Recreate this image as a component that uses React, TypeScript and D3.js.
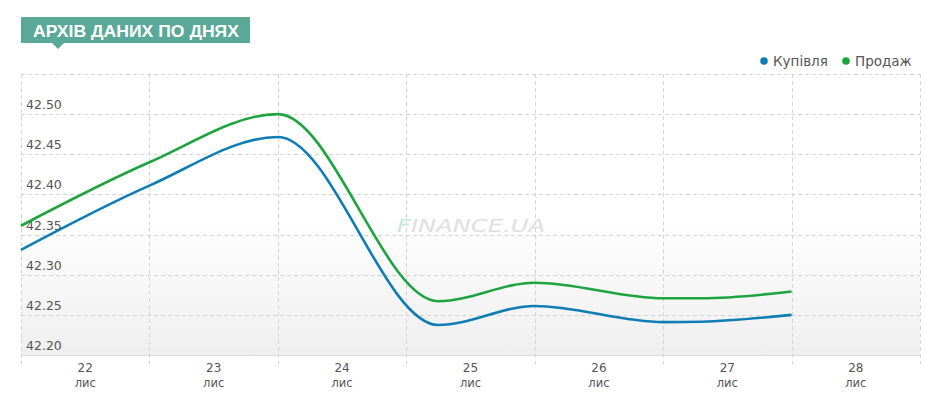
import React from "react";
import * as d3 from "d3";

// Data
const dayPos = [0, 1, 2, 3.25, 4, 5, 5.3, 6];
const buyValues = [42.331, 42.411, 42.4716, 42.2374, 42.261, 42.241, 42.2415, 42.25];
const sellValues = [42.361, 42.44, 42.5, 42.267, 42.29, 42.2706, 42.2706, 42.279];
const dayLabels = ["22", "23", "24", "25", "26", "27", "28"];
const monthLabel = "лис";
const yTicks = [42.2, 42.25, 42.3, 42.35, 42.4, 42.45, 42.5];
const seriesNames = ["Купівля", "Продаж"];
const title = "АРХІВ ДАНИХ ПО ДНЯХ";

const W = 926;
const H = 394;
const left = 21;
const right = 920;
const top = 74;
const bottom = 355;
const blue = "#0d7db3";
const green = "#1ca43f";
const font = "'DejaVu Sans', Verdana, sans-serif";

export default function App() {
  const x = d3.scaleLinear().domain([0, 7]).range([left, right]);
  const y = d3.scaleLinear().domain([42.2, 42.55]).range([bottom, top]);
  const line = d3
    .line<number>()
    .x((_, i) => x(dayPos[i]))
    .y((d) => y(d))
    .curve(d3.curveMonotoneX);
  const gridYs = d3.range(0, 8).map((i) => 42.2 + i * 0.05);
  const gridXs = d3.range(0, 8);

  return (
    <svg
      width={W}
      height={H}
      style={{ position: "absolute", left: 0, top: 0, background: "#fff" }}
    >
      <defs>
        <linearGradient id="bg" x1="0" y1="0" x2="0" y2="1">
          <stop offset="0" stopColor="#ffffff" />
          <stop offset="0.5" stopColor="#ffffff" />
          <stop offset="1" stopColor="#efefef" />
        </linearGradient>
      </defs>

      {/* Title */}
      <rect x={21} y={17} width={229} height={26} fill="#5aa898" />
      <path d="M52,43 L64,43 L58,49 Z" fill="#5aa898" />
      <text
        x={33}
        y={37}
        fill="#fff"
        fontFamily="'Liberation Sans', Arial, sans-serif"
        fontWeight="bold"
        fontSize={16.5}
        textLength={206}
        lengthAdjust="spacingAndGlyphs"
      >
        {title}
      </text>

      {/* Plot background */}
      <rect x={left} y={top} width={right - left} height={bottom - top} fill="url(#bg)" />

      {/* Horizontal gridlines */}
      {gridYs.map((v, i) => (
        <line
          key={"h" + i}
          x1={left}
          x2={right}
          y1={Math.round(y(v)) + 0.5}
          y2={Math.round(y(v)) + 0.5}
          stroke="#d4d4d4"
          strokeDasharray="4,3"
        />
      ))}
      {/* Vertical gridlines */}
      {gridXs.map((d) => (
        <line
          key={"v" + d}
          x1={Math.round(x(d)) + 0.5}
          x2={Math.round(x(d)) + 0.5}
          y1={top}
          y2={bottom + 9}
          stroke="#d4d4d4"
          strokeDasharray="4,3"
        />
      ))}
      <line x1={left} x2={right} y1={bottom + 0.5} y2={bottom + 0.5} stroke="#dcdcdc" />

      {/* Watermark */}
      <text
        x={397}
        y={232}
        fontFamily="'DejaVu Sans', Verdana, sans-serif"
        fontStyle="italic"
        fontSize={18}
        fill="#e0e0e0"
        textLength={148}
        lengthAdjust="spacingAndGlyphs"
      >
        <tspan fill="#c5e6e1">F</tspan>INANCE.UA
      </text>

      {/* Y labels */}
      {yTicks.map((v) => (
        <text
          key={"y" + v}
          x={26}
          y={y(v) - 5}
          fontFamily={font}
          fontSize={12.5}
          fill="#555"
        >
          {v.toFixed(2)}
        </text>
      ))}

      {/* X labels */}
      {dayLabels.map((lab, i) => (
        <g key={"x" + lab}>
          <text
            x={x(i + 0.5)}
            y={372}
            textAnchor="middle"
            fontFamily={font}
            fontSize={12}
            fill="#555"
          >
            {lab}
          </text>
          <text
            x={x(i + 0.5)}
            y={387}
            textAnchor="middle"
            fontFamily={font}
            fontSize={11.5}
            fill="#555"
          >
            {monthLabel}
          </text>
        </g>
      ))}

      {/* Lines */}
      <path d={line(buyValues) || ""} fill="none" stroke={blue} strokeWidth={2.6} />
      <path d={line(sellValues) || ""} fill="none" stroke={green} strokeWidth={2.6} />

      {/* Legend */}
      <circle cx={764} cy={61} r={3.8} fill={blue} />
      <text x={773} y={66} fontFamily={font} fontSize={13.5} fill="#555">
        {seriesNames[0]}
      </text>
      <circle cx={846} cy={61} r={3.8} fill={green} />
      <text x={855} y={66} fontFamily={font} fontSize={13.5} fill="#555">
        {seriesNames[1]}
      </text>
    </svg>
  );
}
